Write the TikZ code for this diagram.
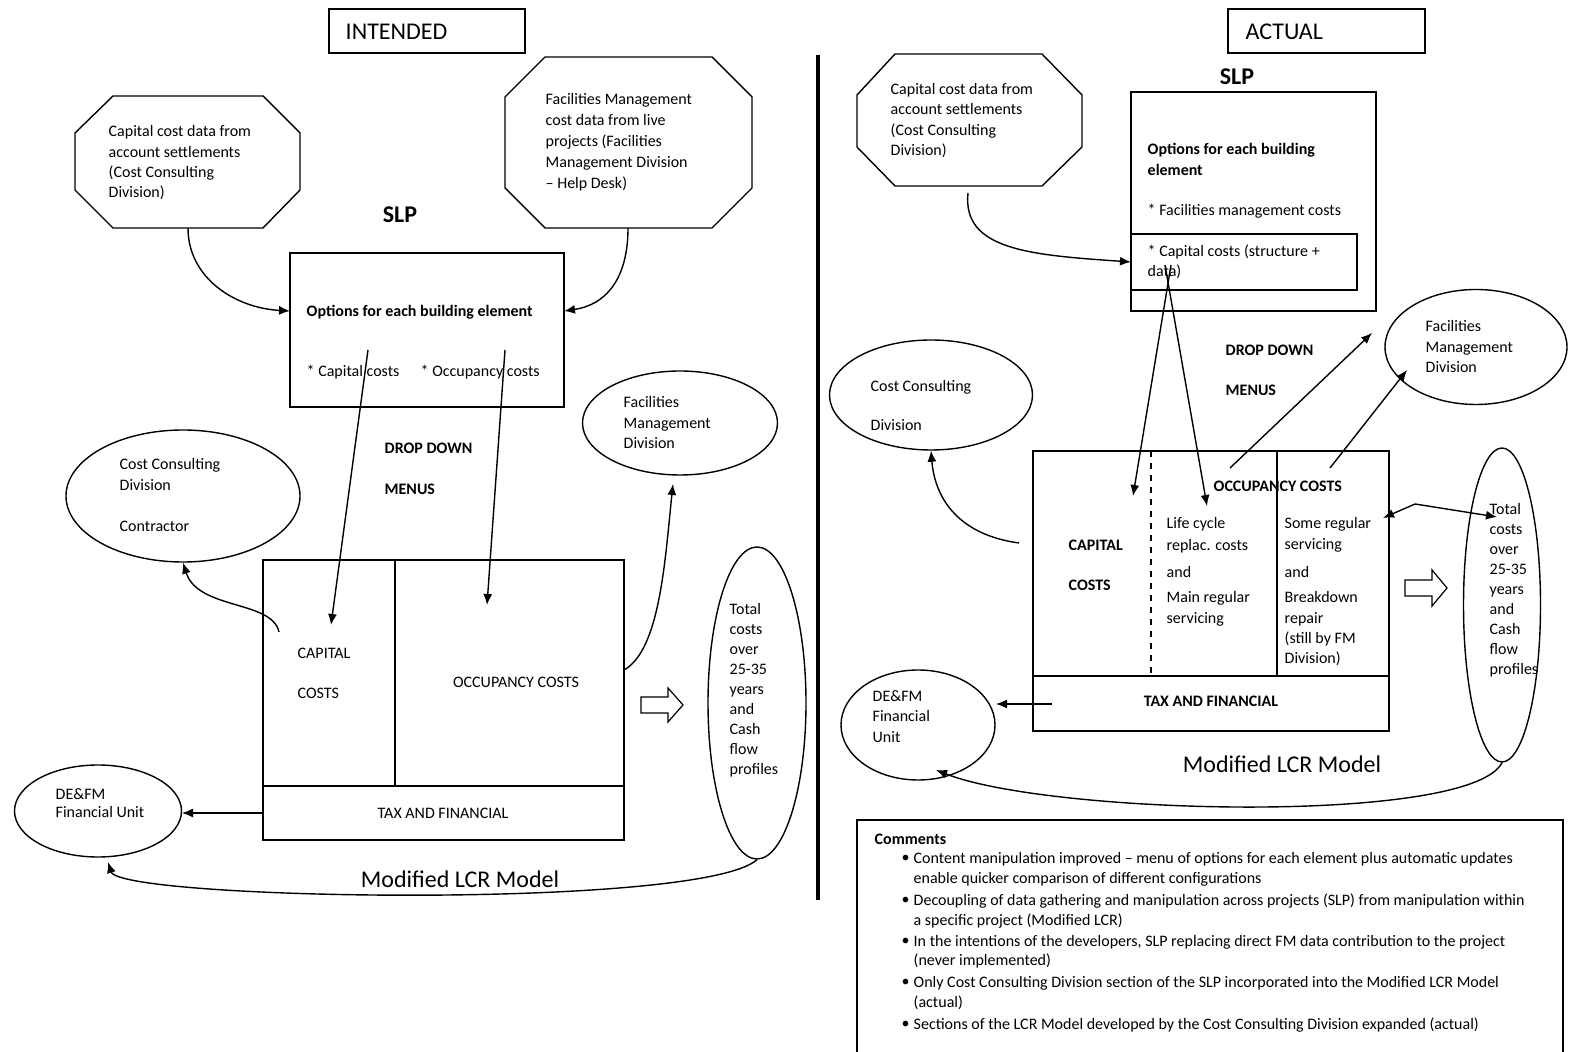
\documentclass[tikz,border=0pt]{standalone}
\usepackage{fontspec}
\setmainfont{Carlito}
\usetikzlibrary{shapes.geometric,arrows.meta}
\begin{document}
\begin{tikzpicture}[x=0.5pt,y=-0.5pt,line width=0.7pt,
  arr/.style={-{Latex[length=5.5pt,width=4.5pt]}},
  darr/.style={{Latex[length=5.5pt,width=4.5pt]}-{Latex[length=5.5pt,width=4.5pt]}},
  txt/.style={font=\fontsize{8}{10.1}\selectfont, inner sep=0pt, align=left, anchor=north west},
  txtb/.style={txt, font=\fontsize{8}{10.1}\selectfont\bfseries},
  lbl/.style={font=\fontsize{8}{10.1}\selectfont, inner sep=0pt, anchor=west},
  lblb/.style={lbl, font=\fontsize{8}{10.1}\selectfont\bfseries},
  big/.style={font=\fontsize{12}{14}\selectfont, inner sep=0pt},
  ell/.style={draw, ellipse, inner sep=0pt},
  box/.style={draw, rectangle, inner sep=0pt},
  hollow/.style={draw, fill=white, line width=0.6pt}]
\useasboundingbox (0,0) rectangle (1574,1052);

% ================= LEFT: INTENDED =================
\node[box, minimum width=98pt, minimum height=22pt] (intbox) at (427,31) {};
\node[big, anchor=west] (inttxt) at (345,32) {INTENDED};

% octagons
\draw (113,96) -- (263,96) -- (300,133) -- (300,190) -- (263,228) -- (113,228) -- (75,190) -- (75,133) -- cycle;
\node[txt] (l1txt) at (108,125) {Capital cost data from\\account settlements\\(Cost Consulting\\Division)};
\coordinate (l1b) at (188,228);
\draw (545,57) -- (712,57) -- (752,97) -- (752,188) -- (712,228) -- (545,228) -- (505,188) -- (505,97) -- cycle;
\node[txt, font=\fontsize{8}{10.5}\selectfont] (l2txt) at (545,93) {Facilities Management\\cost data from live\\projects (Facilities\\Management Division\\– Help Desk)};
\coordinate (l2b) at (628,228);

\node[big, font=\fontsize{12}{14}\selectfont\bfseries] (lslp) at (400,215) {SLP};

\node[box, minimum width=137pt, minimum height=77pt] (lopt) at (427,330) {};
\node[lblb] (lopttxt) at (306,312) {Options for each building element};
\node[lbl] (lcapc) at (306,372) {* Capital costs};
\node[lbl] (loccc) at (420,372) {* Occupancy costs};
\coordinate (loptw) at (290,311);
\coordinate (lopte) at (564,311);

\draw[arr] (l1b) .. controls (188,278) and (235,308) .. (loptw);
\draw[arr] (l2b) .. controls (628,280) and (605,305) .. (lopte);

% ellipses
\node[ell, minimum width=97.5pt, minimum height=52pt] (lfm) at (680,423) {};
\node[txt] (lfmtxt) at (623,396) {Facilities\\Management\\Division};
\node[ell, minimum width=117pt, minimum height=66pt] (lcc) at (183,496) {};
\node[txt] (lcctxt) at (119,458) {Cost Consulting\\Division};
\node[lbl] (lcontr) at (119,526) {Contractor};

\node[lblb] (ldd) at (384,448) {DROP DOWN};
\node[lblb] (lmenus) at (384,489) {MENUS};

% LCR model box
\node[box, minimum width=180.5pt, minimum height=140pt] (llcr) at (443.5,700) {};
\draw (395,560) -- (395,786);
\draw (263,786) -- (624,786);
\node[lbl] (lcap) at (297,653) {CAPITAL};
\node[lbl] (lcos) at (297,693) {COSTS};
\node[font=\fontsize{8}{10.1}\selectfont, inner sep=0pt] (locc) at (516,682) {OCCUPANCY COSTS};
\node[font=\fontsize{8}{10.1}\selectfont, inner sep=0pt] (ltax) at (443,813) {TAX AND FINANCIAL};

\coordinate (lca) at (368,350);
\coordinate (lcaend) at (331,625);
\coordinate (loa) at (505,350);
\coordinate (loaend) at (487,605);
\draw[arr] (lca) -- (lcaend);
\draw[arr] (loa) -- (loaend);

\coordinate (lcapout) at (279,632);
\draw[arr] (lcapout) .. controls (272,600) and (198,610) .. (lcc.south);
\coordinate (loccout) at (624,670);
\draw[arr] (loccout) .. controls (660,650) and (665,560) .. (673,484);

% hollow arrow
\draw[hollow] (641,697) -- (668,697) -- (668,688) -- (683,705) -- (668,722) -- (668,713) -- (641,713) -- cycle;

\node[ell, minimum width=49pt, minimum height=156pt] (ltot) at (757,703) {};
\node[txt, font=\fontsize{8}{9.95}\selectfont] (ltottxt) at (729,603) {Total\\costs\\over\\25-35\\years\\and\\Cash\\flow\\profiles};

\node[ell, minimum width=83.5pt, minimum height=46pt] (lde) at (98,811) {};
\node[txt, font=\fontsize{8}{9}\selectfont] (ldetxt) at (55,788) {DE\&FM\\Financial Unit};
\coordinate (ltaxw) at (263,813);
\coordinate (ldee) at (182,813);
\draw[arr] (ltaxw) -- (ldee);

\node[big] (lmod) at (460,879) {Modified LCR Model};
\draw[arr] (ltot.south) .. controls (700,910) and (120,900) .. (108,862);

% ================= DIVIDER =================
\draw[line width=2pt] (818,55) -- (818,900);

% ================= RIGHT: ACTUAL =================
\node[box, minimum width=98.5pt, minimum height=22pt] (actbox) at (1326.5,31) {};
\node[big, anchor=west] (acttxt) at (1245,32) {ACTUAL};
\node[big, font=\fontsize{12}{14}\selectfont\bfseries] (rslp) at (1237,77) {SLP};

\draw (895,54) -- (1042,54) -- (1082,95) -- (1082,147) -- (1042,186) -- (895,186) -- (857,147) -- (857,95) -- cycle;
\node[txt] (r1txt) at (890,83) {Capital cost data from\\account settlements\\(Cost Consulting\\Division)};
\coordinate (r1b) at (968,193);

\node[box, minimum width=122.5pt, minimum height=109.5pt] (ropt) at (1253.5,201.5) {};
\node[box, minimum width=113pt, minimum height=28pt] (rcapbox) at (1244,262) {};
\node[txtb] (ropttxt) at (1147,143) {Options for each building\\element};
\node[lbl] (rfmc) at (1147,211) {* Facilities management costs};
\node[txt] (rcapc) at (1147,244) {* Capital costs (structure +\\data)};
\coordinate (rcapw) at (1131,262);
\draw[arr] (r1b) .. controls (962,250) and (1030,255) .. (rcapw);

\node[ell, minimum width=101.5pt, minimum height=55pt] (rcc) at (931,395) {};
\node[lbl] (rcc1) at (870,387) {Cost Consulting};
\node[lbl] (rcc2) at (870,425) {Division};

\node[ell, minimum width=91pt, minimum height=57.5pt] (rfm) at (1476,347) {};
\node[txt] (rfmtxt) at (1425,320) {Facilities\\Management\\Division};

\node[lblb] (rdd) at (1225,350) {DROP DOWN};
\node[lblb] (rmenus) at (1225,390) {MENUS};

\node[box, minimum width=178pt, minimum height=140pt] (rlcr) at (1211,591) {};
\draw (1033,676) -- (1389,676);
\draw[dashed] (1151,451) -- (1151,676);
\draw (1277,451) -- (1277,676);
\node[lblb] (rcap) at (1068,545) {CAPITAL};
\node[lblb] (rcos) at (1068,585) {COSTS};
\node[lblb] (rocc) at (1213,486) {OCCUPANCY COSTS};
\node[txt, font=\fontsize{8}{11}\selectfont] (rlc) at (1166,517) {Life cycle\\replac. costs};
\node[lbl] (rand1) at (1166,572) {and};
\node[txt] (rmain) at (1166,591) {Main regular\\servicing};
\node[txt] (rsome) at (1284,517) {Some regular\\servicing};
\node[lbl] (rand2) at (1284,572) {and};
\node[txt] (rbrk) at (1284,591) {Breakdown\\repair\\(still by FM\\Division)};
\node[font=\fontsize{8}{10.1}\selectfont\bfseries, inner sep=0pt] (rtax) at (1211,701) {TAX AND FINANCIAL};

\coordinate (rda) at (1171,265);
\coordinate (rdb) at (1165,265);
\draw[arr] (rda) -- (1133,496);
\draw[arr] (rdb) -- (1207,506);

\coordinate (rocc1) at (1230,468);
\coordinate (rocc2) at (1330,468);
\draw[arr] (rocc1) -- (1372,333);
\draw[arr] (rocc2) -- (1407,370);

\node[ell, minimum width=38.5pt, minimum height=157pt] (rtot) at (1502,605) {};
\node[txt, font=\fontsize{8}{10}\selectfont] (rtottxt) at (1489,503) {Total\\costs\\over\\25-35\\years\\and\\Cash\\flow\\profiles};

\coordinate (rsomee) at (1383,518);
\coordinate (rtotin) at (1497,517);
\draw[darr] (rsomee) -- (1415,504) -- (rtotin);

\draw[hollow] (1405,580) -- (1432,580) -- (1432,570) -- (1447,588) -- (1432,606) -- (1432,596) -- (1405,596) -- cycle;

\coordinate (rcapout) at (1019,543);
\draw[arr] (rcapout) .. controls (960,535) and (935,500) .. (rcc.south);

\node[ell, minimum width=77pt, minimum height=55pt] (rde) at (918,725) {};
\node[txt] (rdetxt) at (872,690) {DE\&FM\\Financial\\Unit};
\coordinate (rtaxw) at (1052,704);
\coordinate (rdee) at (996,704);
\draw[arr] (rtaxw) -- (rdee);

\node[big] (rmod) at (1282,764) {Modified LCR Model};
\draw[arr] (rtot.south) .. controls (1470,825) and (1050,815) .. (936,770);

% comments
\draw (857,1052) -- (857,820) -- (1563,820) -- (1563,1052);
\node[lblb] (comh) at (874,839) {Comments};
\begin{scope}[every node/.style={font=\fontsize{8}{10.3}\selectfont, inner sep=0pt, anchor=west}]
\node (b1) at (901,859) {•};
\node (c1) at (913,859) {Content manipulation improved – menu of options for each element plus automatic updates};
\node (c1b) at (913,879) {enable quicker comparison of different configurations};
\node (b2) at (901,901) {•};
\node (c2) at (913,901) {Decoupling of data gathering and manipulation across projects (SLP) from manipulation within};
\node (c2b) at (913,921) {a specific project (Modified LCR)};
\node (b3) at (901,942) {•};
\node (c3) at (913,942) {In the intentions of the developers, SLP replacing direct FM data contribution to the project};
\node (c3b) at (913,961) {(never implemented)};
\node (b4) at (901,983) {•};
\node (c4) at (913,983) {Only Cost Consulting Division section of the SLP incorporated into the Modified LCR Model};
\node (c4b) at (913,1003) {(actual)};
\node (b5) at (901,1025) {•};
\node (c5) at (913,1025) {Sections of the LCR Model developed by the Cost Consulting Division expanded (actual)};
\end{scope}
\end{tikzpicture}
\end{document}
